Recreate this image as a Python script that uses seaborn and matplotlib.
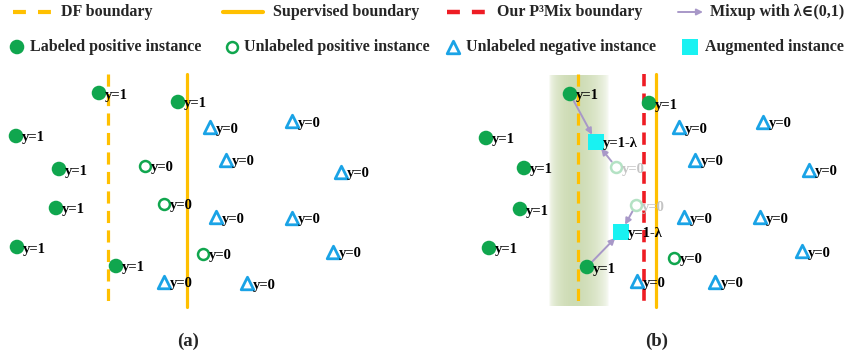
import numpy as np
import pandas as pd
import matplotlib
matplotlib.use("Agg")
import matplotlib.pyplot as plt
import seaborn as sns

sns.set_theme(style="white")
plt.rcParams["font.family"] = ["Liberation Serif", "DejaVu Serif"]
plt.rcParams["font.weight"] = "bold"

# ---- colours ----
GREEN = "#10a64e"
FADED_GREEN = "#b4e2c4"
BLUE = "#1aa3e6"
ORANGE = "#ffc000"
RED = "#ee1c24"
CYAN = "#19f2f2"
LAVENDER = "#a898c8"

# ---- panel (a): instances ----
a_lab_x = [99, 178, 16, 59, 56, 17, 116]
a_lab_y = [93, 102, 136, 169, 208, 247, 266]
a_unpos_x = [145, 164, 203]
a_unpos_y = [166, 204, 254]
a_neg_x = [210, 292, 226, 341, 216, 292, 333, 164, 247]
a_neg_y = [127, 121, 160, 172, 217, 218, 252, 282, 283]
a_df_x = 108
a_sup_x = 187

# ---- panel (b): instances ----
b_lab_x = [570, 649, 486, 524, 520, 489, 587]
b_lab_y = [94, 103, 138, 168, 209, 248, 267]
b_unpos_x = [674]
b_unpos_y = [258]
b_faded_x = [616, 636]
b_faded_y = [167, 205]
b_neg_x = [679, 763, 695, 809, 684, 760, 802, 637, 715]
b_neg_y = [127, 122, 160, 170, 217, 217, 251, 281, 282]
b_aug_x = [596, 621]
b_aug_y = [142, 232]
b_df_x = 578
b_sup_x = 656
b_ours_x = 644
# mixup pairs: source instance -> augmented instance
mix_src = [(570, 94), (616, 167), (636, 205), (587, 267)]
mix_dst = [(596, 142), (596, 142), (621, 232), (621, 232)]

line_top, line_bot = 74, 307

fig = plt.figure(figsize=(8.5, 3.56), dpi=100)
ax = fig.add_axes([0, 0, 1, 1])
ax.set_xlim(0, 850)
ax.set_ylim(356, 0)
ax.axis("off")

# soft green band around the DF boundary in panel (b)
band_x0, band_x1 = 549, 609
xs = np.linspace(0, 1, 200)
alpha = np.clip(np.sin(np.pi * xs) ** 0.5 * (1.0 - 0.3 * xs), 0, 1) * 0.5
rgba = np.zeros((1, 200, 4))
rgba[..., 0], rgba[..., 1], rgba[..., 2] = 0.55, 0.68, 0.32
rgba[..., 3] = alpha
ax.imshow(rgba, extent=(band_x0, band_x1, 306, 75), aspect="auto", zorder=0,
          interpolation="bilinear")

dash = (3.8, 2.3)
for x in (a_df_x, b_df_x):
    ax.plot([x, x], [line_top, line_bot], color=ORANGE, lw=2.3, dashes=dash,
            zorder=1)
for x in (a_sup_x, b_sup_x):
    ax.plot([x, x], [line_top, line_bot], color=ORANGE, lw=2.3, zorder=1)
ax.plot([b_ours_x, b_ours_x], [line_top, line_bot], color=RED, lw=2.6,
        dashes=(3.4, 2.0), zorder=1)

# mixup arrows
for (sx, sy), (dx, dy) in zip(mix_src, mix_dst):
    ax.annotate("", xy=(dx, dy), xytext=(sx, sy),
                arrowprops=dict(arrowstyle="-|>", color=LAVENDER, lw=1.4,
                                mutation_scale=9, shrinkA=5, shrinkB=6),
                zorder=2)

lab = pd.DataFrame({"x": a_lab_x + b_lab_x, "y": a_lab_y + b_lab_y})
unpos = pd.DataFrame({"x": a_unpos_x + b_unpos_x, "y": a_unpos_y + b_unpos_y})
faded = pd.DataFrame({"x": b_faded_x, "y": b_faded_y})
neg = pd.DataFrame({"x": a_neg_x + b_neg_x, "y": a_neg_y + b_neg_y})
aug = pd.DataFrame({"x": b_aug_x, "y": b_aug_y})

sns.scatterplot(data=lab, x="x", y="y", ax=ax, marker="o", s=110,
                color=GREEN, edgecolor="none", zorder=3, legend=False)
sns.scatterplot(data=unpos, x="x", y="y", ax=ax, marker="o", s=62,
                facecolor="white", edgecolor=GREEN, linewidth=1.8, zorder=3,
                legend=False)
sns.scatterplot(data=faded, x="x", y="y", ax=ax, marker="o", s=62,
                facecolor="white", edgecolor=FADED_GREEN, linewidth=1.8,
                zorder=3, legend=False)
sns.scatterplot(data=neg, x="x", y="y", ax=ax, marker="^", s=82,
                facecolor="white", edgecolor=BLUE, linewidth=2.0, zorder=3,
                legend=False)
sns.scatterplot(data=aug, x="x", y="y", ax=ax, marker="s", s=125,
                color=CYAN, edgecolor="none", zorder=3, legend=False)

ax.set_xlim(0, 850)
ax.set_ylim(356, 0)
ax.axis("off")

LBL = dict(fontsize=10.5, fontweight="bold", va="center", ha="left", zorder=4)
for x, y in zip(lab["x"], lab["y"]):
    ax.text(x + 6, y + 2, "y=1", color="black", **LBL)
for x, y in zip(unpos["x"], unpos["y"]):
    ax.text(x + 6, y + 2, "y=0", color="black", **LBL)
for x, y in zip(neg["x"], neg["y"]):
    ax.text(x + 6, y + 2, "y=0", color="black", **LBL)
for x, y in zip(faded["x"], faded["y"]):
    ax.text(x + 6, y + 2, "y=0", color="#c4c4c4", **LBL)
for x, y in zip(aug["x"], aug["y"]):
    ax.text(x + 7, y + 2, "y=1-λ", color="black", **LBL)

# ---- legend ----
LEG = dict(fontsize=11.5, fontweight="bold", va="center", ha="left")
r1, r2 = 12, 47
ax.plot([13, 52], [r1, r1], color=ORANGE, lw=3, dashes=(3.1, 2.9))
ax.text(61, r1, "DF boundary", **LEG)
ax.plot([223, 263], [r1, r1], color=ORANGE, lw=3)
ax.text(273, r1, "Supervised boundary", **LEG)
ax.plot([447, 487], [r1, r1], color=RED, lw=3.2, dashes=(2.9, 2.7))
ax.text(497, r1, "Our P³Mix boundary", **LEG)
ax.annotate("", xy=(703, r1), xytext=(678, r1),
            arrowprops=dict(arrowstyle="-|>", color=LAVENDER, lw=1.4,
                            mutation_scale=9, shrinkA=0, shrinkB=0))
ax.text(710, r1, "Mixup with λ∈(0,1)", **LEG)

ax.scatter([17], [r2], marker="o", s=110, color=GREEN, edgecolor="none")
ax.text(30, r2, "Labeled positive instance", **LEG)
ax.scatter([232], [r2], marker="o", s=62, facecolor="white",
           edgecolor=GREEN, linewidth=1.8)
ax.text(244, r2, "Unlabeled positive instance", **LEG)
ax.scatter([453], [r2], marker="^", s=82, facecolor="white",
           edgecolor=BLUE, linewidth=2.0)
ax.text(466, r2, "Unlabeled negative instance", **LEG)
ax.scatter([690], [r2], marker="s", s=125, color=CYAN, edgecolor="none")
ax.text(705, r2, "Augmented instance", **LEG)

# panel captions
ax.text(188, 341, "(a)", fontsize=13.5, fontweight="bold", ha="center", va="center")
ax.text(657, 341, "(b)", fontsize=13.5, fontweight="bold", ha="center", va="center")

fig.savefig("out.png", dpi=100)
